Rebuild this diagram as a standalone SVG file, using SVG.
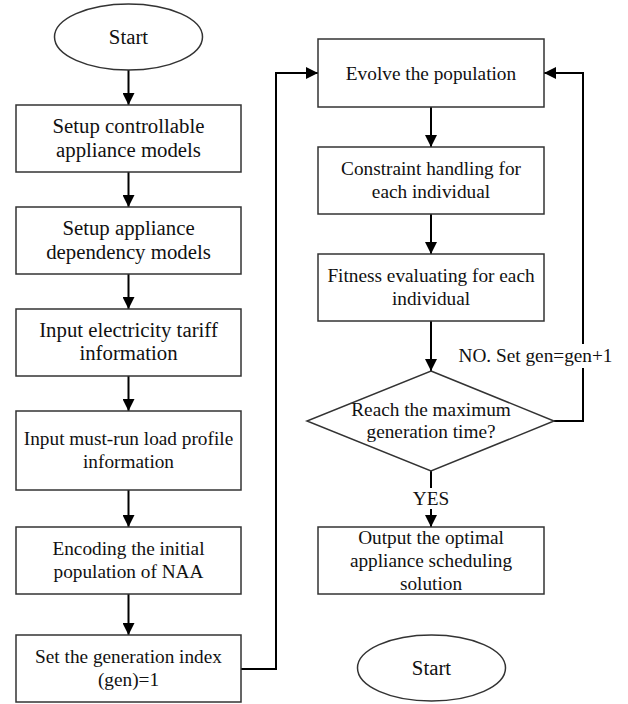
<svg xmlns="http://www.w3.org/2000/svg" width="628" height="704" viewBox="0 0 628 704">
<defs>
<style>
.box{fill:#fff;stroke:#333;stroke-width:1.5}
.t{font-family:"Liberation Serif","Times New Roman",serif;font-size:19.3px;fill:#111;text-anchor:middle}
.big{font-size:20.8px}
.c{fill:none;stroke:#000;stroke-width:2}
</style>
<marker id="ah" viewBox="0 0 12 12" refX="12" refY="6" markerWidth="12" markerHeight="12" markerUnits="userSpaceOnUse" orient="auto">
<path d="M0,0 L12,6 L0,12 Z" fill="#000"/>
</marker>
</defs>
<rect width="628" height="704" fill="#fff"/>
<g id="connectors">
<line class="c" x1="128.5" y1="70" x2="128.5" y2="105" marker-end="url(#ah)"/>
<line class="c" x1="128.5" y1="172" x2="128.5" y2="207" marker-end="url(#ah)"/>
<line class="c" x1="128.5" y1="274" x2="128.5" y2="309" marker-end="url(#ah)"/>
<line class="c" x1="128.5" y1="376" x2="128.5" y2="411" marker-end="url(#ah)"/>
<line class="c" x1="128.5" y1="490" x2="128.5" y2="527" marker-end="url(#ah)"/>
<line class="c" x1="128.5" y1="594" x2="128.5" y2="635" marker-end="url(#ah)"/>
<polyline class="c" points="241,669 276,669 276,73 318,73" marker-end="url(#ah)"/>
<line class="c" x1="431" y1="107" x2="431" y2="147" marker-end="url(#ah)"/>
<line class="c" x1="431" y1="214" x2="431" y2="254" marker-end="url(#ah)"/>
<line class="c" x1="431" y1="321" x2="431" y2="371" marker-end="url(#ah)"/>
<polyline class="c" points="554,421 583,421 583,73 544,73" marker-end="url(#ah)"/>
<line class="c" x1="431" y1="471" x2="431" y2="527" marker-end="url(#ah)"/>
<rect x="457" y="344" width="157" height="24" fill="#fff"/>
<text class="t" x="535.5" y="362">NO. Set gen=gen+1</text>
<rect x="413" y="488" width="36" height="21" fill="#fff"/>
<text class="t" x="431" y="505">YES</text>
</g>
<g id="start">
<ellipse class="box" cx="128.5" cy="37" rx="74" ry="33"/>
<text class="t big" x="128.5" y="44">Start</text>
</g>
<g id="setup-controllable">
<rect class="box" x="16" y="105" width="225" height="67"/>
<text class="t big" x="128.5" y="133">Setup controllable</text>
<text class="t big" x="128.5" y="157">appliance models</text>
</g>
<g id="setup-dependency">
<rect class="box" x="16" y="207" width="225" height="67"/>
<text class="t big" x="128.5" y="234.5">Setup appliance</text>
<text class="t big" x="128.5" y="258.5">dependency models</text>
</g>
<g id="input-tariff">
<rect class="box" x="16" y="309" width="225" height="67"/>
<text class="t big" x="128.5" y="336.5">Input electricity tariff</text>
<text class="t big" x="128.5" y="360">information</text>
</g>
<g id="input-mustrun">
<rect class="box" x="16" y="411" width="225" height="79"/>
<text class="t" x="128.5" y="445">Input must-run load profile</text>
<text class="t" x="128.5" y="468">information</text>
</g>
<g id="encoding">
<rect class="box" x="16" y="527" width="225" height="67"/>
<text class="t" x="128.5" y="555">Encoding the initial</text>
<text class="t" x="128.5" y="578">population of NAA</text>
</g>
<g id="set-gen">
<rect class="box" x="16" y="635" width="225" height="67"/>
<text class="t" x="128.5" y="663">Set the generation index</text>
<text class="t" x="128.5" y="686">(gen)=1</text>
</g>
<g id="evolve">
<rect class="box" x="318" y="39" width="226" height="68"/>
<text class="t" x="431" y="79.5">Evolve the population</text>
</g>
<g id="constraint">
<rect class="box" x="318" y="147" width="226" height="67"/>
<text class="t" x="431" y="175">Constraint handling for</text>
<text class="t" x="431" y="197.5">each individual</text>
</g>
<g id="fitness">
<rect class="box" x="318" y="254" width="226" height="67"/>
<text class="t" x="431" y="282">Fitness evaluating for each</text>
<text class="t" x="431" y="304.5">individual</text>
</g>
<g id="decision">
<polygon class="box" points="431,371 554,421 431,471 307,421"/>
<text class="t" x="431" y="415.5">Reach the maximum</text>
<text class="t" x="431" y="438">generation time?</text>
</g>
<g id="output">
<rect class="box" x="318" y="527" width="226" height="67"/>
<text class="t" x="431" y="544">Output the optimal</text>
<text class="t" x="431" y="567">appliance scheduling</text>
<text class="t" x="431" y="589.5">solution</text>
</g>
<g id="end">
<ellipse class="box" cx="431.5" cy="668" rx="74" ry="33"/>
<text class="t big" x="431.5" y="675">Start</text>
</g>
</svg>
